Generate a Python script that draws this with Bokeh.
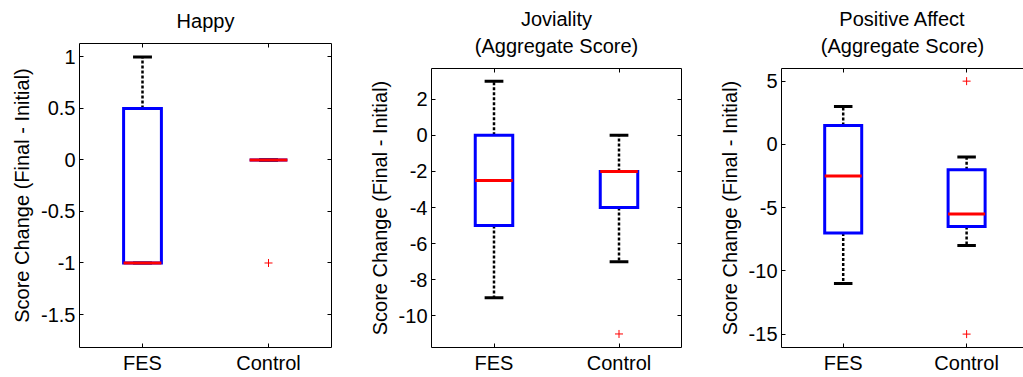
import numpy as np
from bokeh.plotting import figure
from bokeh.models import LinearAxis, FixedTicker, Range1d, Title, PrintfTickFormatter
from bokeh.layouts import row, column
from bokeh.embed import file_html
from bokeh.resources import INLINE

# ---------------- data ----------------
groups = ["FES", "Control"]
group_pos = [1, 2]
y_label = "Score Change (Final - Initial)"

happy_title = ["Happy"]
happy_upper = [1, 0]
happy_q3 = [0.5, 0]
happy_median = [-1, 0]
happy_q1 = [-1, 0]
happy_lower = [-1, 0]
happy_out_group = [2]
happy_out_value = [-1]
happy_ticks = [-1.5, -1, -0.5, 0, 0.5, 1]
happy_ylim = [-1.82, 1.13]

jov_title = ["Joviality", "(Aggregate Score)"]
jov_upper = [3, 0]
jov_q3 = [0, -2]
jov_median = [-2.5, -2]
jov_q1 = [-5, -4]
jov_lower = [-9, -7]
jov_out_group = [2]
jov_out_value = [-11]
jov_ticks = [-10, -8, -6, -4, -2, 0, 2]
jov_ylim = [-11.75, 3.7]

pa_title = ["Positive Affect", "(Aggregate Score)"]
pa_upper = [3, -1]
pa_q3 = [1.5, -2]
pa_median = [-2.5, -5.5]
pa_q1 = [-7, -6.5]
pa_lower = [-11, -8]
pa_out_group = [2, 2]
pa_out_value = [5, -15]
pa_ticks = [-15, -10, -5, 0, 5]
pa_ylim = [-16.06, 6.0]

FONT = "Liberation Sans"
BOX_HW = 0.15
CAP_HW = 0.075


def style_axis(ax, ticks, labels=True, size="20px"):
    ax.axis_line_color = "black"
    ax.axis_line_width = 1
    ax.major_tick_line_color = "black"
    ax.major_tick_in = 4
    ax.major_tick_out = 0
    ax.minor_tick_line_color = None
    ax.major_label_text_font = FONT
    ax.major_label_text_color = "black"
    if labels:
        ax.major_label_text_font_size = size
    else:
        ax.major_label_text_font_size = "0px"
        ax.major_label_standoff = 0
        ax.major_label_overrides = {t: "" for t in ticks}


def make_panel(titles, upper, q3, med, q1, lower, out_g, out_v, yticks, ylim,
               xend, left, frame_w, right, top, frame_h, bottom, right_axis=True):
    p = figure(frame_width=frame_w, frame_height=frame_h,
               x_range=Range1d(0.5, xend), y_range=Range1d(ylim[0], ylim[1]),
               x_axis_location=None, y_axis_location=None,
               toolbar_location=None, output_backend="svg", title=None,
               min_border_left=left, min_border_right=right,
               min_border_top=top, min_border_bottom=bottom)
    p.outline_line_color = None
    p.background_fill_color = "white"
    p.border_fill_color = "white"
    for g in p.grid:
        g.visible = False

    xt = FixedTicker(ticks=group_pos)
    yt = FixedTicker(ticks=yticks)

    bx = LinearAxis(ticker=xt)
    style_axis(bx, group_pos, True, "20px")
    bx.major_label_overrides = {gp: g for gp, g in zip(group_pos, groups)}
    bx.major_label_standoff = 4
    p.add_layout(bx, "below")

    ly = LinearAxis(ticker=yt, formatter=PrintfTickFormatter(format="%g"))
    style_axis(ly, yticks, True, "20px")
    ly.major_label_standoff = 4
    ly.axis_label = y_label
    ly.axis_label_text_font = FONT
    ly.axis_label_text_font_size = "20px"
    ly.axis_label_text_font_style = "normal"
    ly.axis_label_text_color = "black"
    ly.axis_label_standoff = 5
    p.add_layout(ly, "left")

    if right_axis:
        ry = LinearAxis(ticker=yt)
        style_axis(ry, yticks, False)
        p.add_layout(ry, "right")

    # top axis: mirrored ticks, carries the last title line as its label
    tx = LinearAxis(ticker=xt)
    style_axis(tx, group_pos, False)
    tx.axis_label = titles[-1]
    tx.axis_label_text_font = FONT
    tx.axis_label_text_font_size = "20px"
    tx.axis_label_text_font_style = "normal"
    tx.axis_label_text_color = "black"
    tx.axis_label_standoff = 12
    p.add_layout(tx, "above")

    for t in reversed(titles[:-1]):
        p.add_layout(Title(text=t, align="center", text_font=FONT, text_font_size="20px",
                           text_font_style="normal", text_color="black",
                           standoff=4), "above")

    pos = np.array(group_pos, dtype=float)
    upper = np.array(upper, dtype=float)
    q3 = np.array(q3, dtype=float)
    med = np.array(med, dtype=float)
    q1 = np.array(q1, dtype=float)
    lower = np.array(lower, dtype=float)

    p.segment(x0=pos, y0=q3, x1=pos, y1=upper, line_color="black", line_width=2.5, line_dash="3 2")
    p.segment(x0=pos, y0=q1, x1=pos, y1=lower, line_color="black", line_width=2.5, line_dash="3 2")
    p.segment(x0=pos - CAP_HW, y0=upper, x1=pos + CAP_HW, y1=upper, line_color="black", line_width=3)
    p.segment(x0=pos - CAP_HW, y0=lower, x1=pos + CAP_HW, y1=lower, line_color="black", line_width=3)
    xs = [[x - BOX_HW, x + BOX_HW, x + BOX_HW, x - BOX_HW] for x in pos]
    ys = [[a, a, b, b] for a, b in zip(q1, q3)]
    p.patches(xs=xs, ys=ys, fill_color=None, line_color="#0000FF", line_width=3, line_join="miter")
    p.segment(x0=pos - BOX_HW, y0=med, x1=pos + BOX_HW, y1=med, line_color="#FF0000", line_width=3)
    p.scatter(x=out_g, y=out_v, marker="cross", size=8, line_color="#FF0000", line_width=1)
    return p


p1 = make_panel(happy_title, happy_upper, happy_q3, happy_median, happy_q1, happy_lower,
                happy_out_group, happy_out_value, happy_ticks, happy_ylim,
                2.5, 79, 252, 24, 43, 304, 30)
p2 = make_panel(jov_title, jov_upper, jov_q3, jov_median, jov_q1, jov_lower,
                jov_out_group, jov_out_value, jov_ticks, jov_ylim,
                2.5, 76, 250, 19, 68, 279, 30)
p3 = make_panel(pa_title, pa_upper, pa_q3, pa_median, pa_q1, pa_lower,
                pa_out_group, pa_out_value, pa_ticks, pa_ylim,
                2.461, 81, 242, 0, 68, 279, 30, right_axis=False)

layout = row(column(p1), column(p2), column(p3), spacing=0)
open("out.html", "w").write(file_html(layout, INLINE))
